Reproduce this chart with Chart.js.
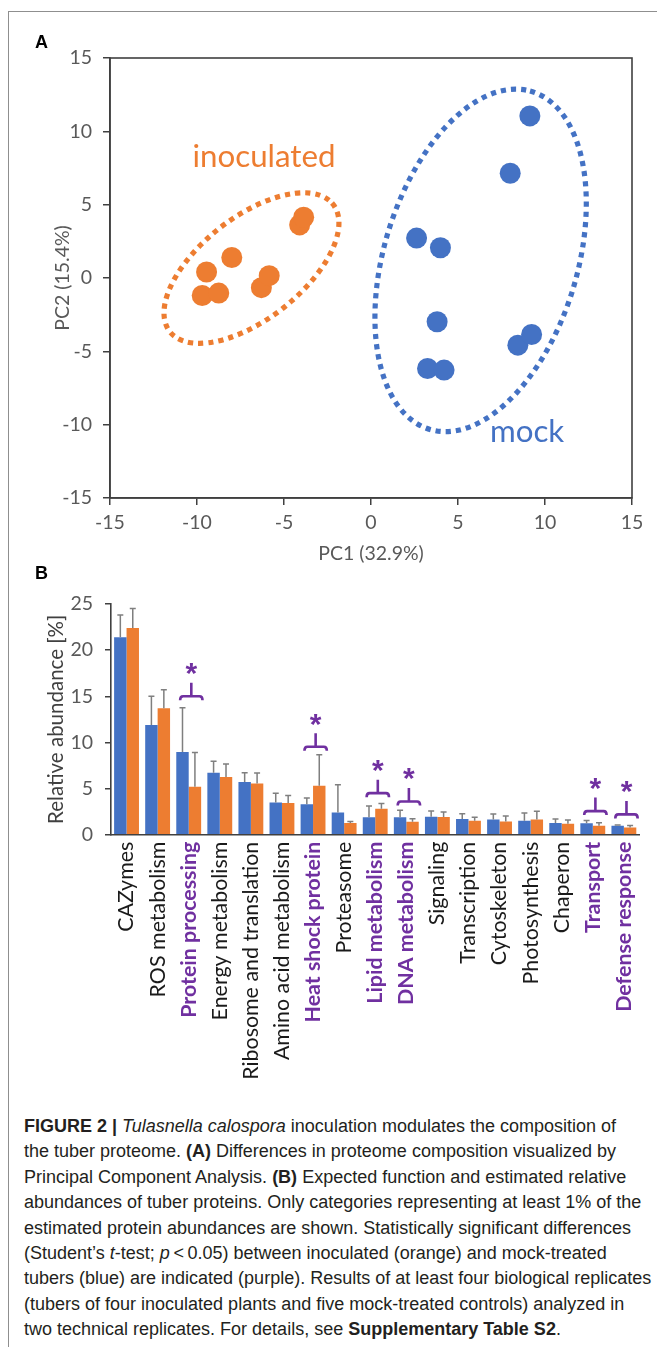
<!DOCTYPE html>
<html>
<head>
<meta charset="utf-8">
<script src="https://cdn.jsdelivr.net/npm/chart.js@4.4.1/dist/chart.umd.min.js"></script>
<style>
html,body{margin:0;padding:0;background:#fff;}
body{position:relative;width:657px;height:1347px;overflow:hidden;}
#frame{position:absolute;left:8px;top:11px;width:1000px;height:2000px;border-left:1px solid #8f8f8f;border-top:1px solid #8f8f8f;}
.plabel{position:absolute;left:35px;font:bold 18px "Liberation Sans",Arial,sans-serif;line-height:18px;color:#000;}
#cA{position:absolute;left:0;top:0;width:657px;height:580px;}
#cB{position:absolute;left:0;top:560px;width:657px;height:540px;}
#cap{position:absolute;left:24px;top:1114px;font:18px "Liberation Sans",Arial,sans-serif;line-height:25.4px;color:#231f20;white-space:nowrap;}
</style>
</head>
<body>
<div id="frame"></div>
<canvas id="cA" width="657" height="580"></canvas>
<canvas id="cB" width="657" height="540"></canvas>
<div class="plabel" style="top:33px">A</div>
<div class="plabel" style="top:564px">B</div>
<div id="cap">
<b>FIGURE 2 |</b> <i>Tulasnella calospora</i> inoculation modulates the composition of<br>
the tuber proteome. <b>(A)</b> Differences in proteome composition visualized by<br>
Principal Component Analysis. <b>(B)</b> Expected function and estimated relative<br>
abundances of tuber proteins. Only categories representing at least 1% of the<br>
estimated protein abundances are shown. Statistically significant differences<br>
(Student’s <i>t</i>-test; <i>p</i>&thinsp;&lt;&thinsp;0.05) between inoculated (orange) and mock-treated<br>
tubers (blue) are indicated (purple). Results of at least four biological replicates<br>
(tubers of four inoculated plants and five mock-treated controls) analyzed in<br>
two technical replicates. For details, see <b>Supplementary Table S2</b>.
</div>
<script>
// ---------- Panel A data ----------
const pcTicks = [-15, -10, -5, 0, 5, 10, 15];
const inocPC1 = [-9.45, -9.7, -8.75, -8.0, -6.3, -5.85, -4.1, -3.87];
const inocPC2 = [0.41, -1.19, -1.03, 1.40, -0.66, 0.16, 3.62, 4.14];
const mockPC1 = [9.13, 8.0, 2.62, 3.99, 3.8, 3.25, 4.2, 8.44, 9.23];
const mockPC2 = [11.05, 7.14, 2.72, 2.06, -2.98, -6.17, -6.28, -4.58, -3.85];
// ellipse: centre (x,y), semi-axis 1 (dx,dy), semi-axis 2 (dx,dy) in data units
const inocEllipse = [-6.87, 0.68, 4.46, 4.62, -2.32, 2.24];
const mockEllipse = [6.3, 1.2, 2.62, 11.61, -5.48, 1.24];
const groupNames = ['inoculated', 'mock'];
const groupNamePos = [[-6.15, 7.57], [8.97, -11.2]];

// ---------- Panel B data ----------
const categories = ['CAZymes', 'ROS metabolism', 'Protein processing', 'Energy metabolism',
  'Ribosome and translation', 'Amino acid metabolism', 'Heat shock protein', 'Proteasome',
  'Lipid metabolism', 'DNA metabolism', 'Signaling', 'Transcription', 'Cytoskeleton',
  'Photosynthesis', 'Chaperon', 'Transport', 'Defense response'];
const mockAbund = [21.4, 11.9, 8.95, 6.7, 5.7, 3.5, 3.3, 2.4, 1.9, 1.9, 1.95, 1.7, 1.65, 1.5, 1.28, 1.23, 0.97];
const mockSD    = [2.4, 3.1, 4.8, 1.25, 1.0, 1.0, 0.67, 3.0, 1.2, 0.74, 0.61, 0.57, 0.59, 0.85, 0.42, 0.32, 0.08];
const inocAbund = [22.4, 13.7, 5.2, 6.25, 5.56, 3.43, 5.3, 1.26, 2.82, 1.41, 1.91, 1.52, 1.44, 1.66, 1.19, 0.97, 0.79];
const inocSD    = [2.1, 2.0, 3.7, 1.4, 1.12, 0.83, 3.36, 0.18, 0.57, 0.32, 0.54, 0.36, 0.58, 0.87, 0.4, 0.33, 0.21];
const sigBracket = [null, null, 15.0, null, null, null, 9.53, null, 4.5, 3.6, null, null, null, null, null, 2.56, 2.2];
const abundTicks = [0, 5, 10, 15, 20, 25];

const ORANGE = '#ED7D31', BLUE = '#4472C4', PURPLE = '#7030A0';
const AXIS = '#404040', TICK = '#595959';
const FONT = 'Lato';
Chart.defaults.font.family = FONT;

// ---------- Panel A ----------
const ellipsePlugin = {
  id: 'ellipses',
  beforeDatasetsDraw(chart) {
    const {ctx, scales: {x, y}} = chart;
    [[inocEllipse, ORANGE], [mockEllipse, BLUE]].forEach(([e, col]) => {
      const cx = x.getPixelForValue(e[0]), cy = y.getPixelForValue(e[1]);
      const ux = x.getPixelForValue(e[0] + e[2]) - cx, uy = y.getPixelForValue(e[1] + e[3]) - cy;
      const vx = x.getPixelForValue(e[0] + e[4]) - cx, vy = y.getPixelForValue(e[1] + e[5]) - cy;
      ctx.save();
      ctx.beginPath();
      ctx.translate(cx, cy);
      ctx.transform(ux, uy, vx, vy, 0, 0);
      ctx.arc(0, 0, 1, 0, Math.PI * 2);
      ctx.restore();
      ctx.save();
      ctx.strokeStyle = col;
      ctx.lineWidth = 5.2;
      ctx.setLineDash([5.2, 5]);
      ctx.stroke();
      ctx.restore();
    });
  },
  afterDatasetsDraw(chart) {
    const {ctx, scales: {x, y}, chartArea: a} = chart;
    ctx.save();
    ctx.font = '31.3px ' + FONT;
    ctx.textAlign = 'center';
    ctx.textBaseline = 'alphabetic';
    [ORANGE, BLUE].forEach((col, i) => {
      ctx.fillStyle = col;
      ctx.fillText(groupNames[i], x.getPixelForValue(groupNamePos[i][0]), y.getPixelForValue(groupNamePos[i][1]));
    });
    ctx.strokeStyle = AXIS;
    ctx.lineWidth = 1.6;
    ctx.strokeRect(a.left, a.top, a.right - a.left, a.bottom - a.top);
    ctx.restore();
  }
};

const tickFont = {family: FONT, size: 19.5};
new Chart(document.getElementById('cA'), {
  type: 'scatter',
  data: {
    datasets: [
      {data: inocPC1.map((v, i) => ({x: v, y: inocPC2[i]})), backgroundColor: ORANGE, borderColor: ORANGE, borderWidth: 0, pointRadius: 10.5},
      {data: mockPC1.map((v, i) => ({x: v, y: mockPC2[i]})), backgroundColor: BLUE, borderColor: BLUE, borderWidth: 0, pointRadius: 10.5}
    ]
  },
  options: {
    responsive: false, animation: false, events: [],
    layout: {padding: {top: 58, right: 25, left: 0, bottom: 0}},
    plugins: {legend: {display: false}, tooltip: {enabled: false}},
    scales: {
      x: {
        type: 'linear', min: -15, max: 15,
        afterBuildTicks: s => { s.ticks = pcTicks.map(v => ({value: v})); },
        afterFit: s => { s.height = 82; },
        ticks: {color: TICK, font: tickFont, padding: 6},
        grid: {drawOnChartArea: false, drawTicks: true, tickLength: 7, color: AXIS, lineWidth: 1.5},
        border: {display: true, color: AXIS, width: 1.6},
        title: {display: true, text: 'PC1 (32.9%)', color: TICK, font: {family: FONT, size: 19.5}, padding: {top: 0, bottom: 15}}
      },
      y: {
        type: 'linear', min: -15, max: 15,
        afterBuildTicks: s => { s.ticks = pcTicks.map(v => ({value: v})); },
        afterFit: s => { s.width = 110; },
        ticks: {color: TICK, font: tickFont, padding: 11},
        grid: {drawOnChartArea: false, drawTicks: true, tickLength: 7, color: AXIS, lineWidth: 1.5},
        border: {display: true, color: AXIS, width: 1.6},
        title: {display: true, text: 'PC2 (15.4%)', color: TICK, font: {family: FONT, size: 19.5}, padding: {top: 51, bottom: 0}}
      }
    }
  },
  plugins: [ellipsePlugin]
});

// ---------- Panel B ----------
const errPlugin = {
  id: 'errbars',
  afterDatasetsDraw(chart) {
    const {ctx, scales: {y}} = chart;
    ctx.save();
    ctx.strokeStyle = '#7f7f7f';
    ctx.lineWidth = 1.5;
    [[mockAbund, mockSD], [inocAbund, inocSD]].forEach(([vals, sds], di) => {
      chart.getDatasetMeta(di).data.forEach((bar, i) => {
        const x0 = bar.x, y0 = y.getPixelForValue(vals[i]), y1 = y.getPixelForValue(vals[i] + sds[i]);
        ctx.beginPath();
        ctx.moveTo(x0, y0); ctx.lineTo(x0, y1);
        ctx.moveTo(x0 - 3, y1); ctx.lineTo(x0 + 3, y1);
        ctx.stroke();
      });
    });
    ctx.strokeStyle = PURPLE;
    ctx.fillStyle = PURPLE;
    ctx.lineWidth = 2.6;
    ctx.font = 'bold 30px "Liberation Sans", Arial, sans-serif';
    ctx.textAlign = 'center';
    ctx.textBaseline = 'alphabetic';
    const m = ctx.measureText('*');
    const astShift = (m.actualBoundingBoxAscent - m.actualBoundingBoxDescent) / 2;
    sigBracket.forEach((lvl, i) => {
      if (lvl === null) return;
      const b = chart.getDatasetMeta(0).data[i], o = chart.getDatasetMeta(1).data[i];
      const c = (b.x + o.x) / 2 + 2.6;
      const yb = y.getPixelForValue(lvl);
      const L = c - 11.2, R = c + 11.2;
      ctx.beginPath();
      ctx.moveTo(L, yb + 4);
      ctx.quadraticCurveTo(L, yb, L + 3, yb);
      ctx.lineTo(R - 3, yb);
      ctx.quadraticCurveTo(R, yb, R, yb + 4);
      ctx.moveTo(c, yb);
      ctx.lineTo(c, yb - 13.5);
      ctx.stroke();
      ctx.fillText('*', c, yb - 27 + astShift);
    });
    ctx.restore();
  }
};

new Chart(document.getElementById('cB'), {
  type: 'bar',
  data: {
    labels: categories,
    datasets: [
      {data: mockAbund, backgroundColor: BLUE, categoryPercentage: 0.8, barPercentage: 1.0},
      {data: inocAbund, backgroundColor: ORANGE, categoryPercentage: 0.8, barPercentage: 1.0}
    ]
  },
  options: {
    responsive: false, animation: false, events: [],
    layout: {padding: {top: 44, right: 15, left: 0, bottom: 0}},
    plugins: {legend: {display: false}, tooltip: {enabled: false}},
    scales: {
      x: {
        afterFit: s => { s.height = 265.3; },
        ticks: {
          autoSkip: false, minRotation: 90, maxRotation: 90, padding: 7,
          color: c => sigBracket[c.index] !== null ? PURPLE : '#1a1a1a',
          font: c => ({family: FONT, size: 21.4, weight: sigBracket[c.index] !== null ? 'bold' : 'normal'})
        },
        grid: {display: false, drawTicks: false},
        border: {display: true, color: AXIS, width: 1.6}
      },
      y: {
        min: 0, max: 25,
        afterBuildTicks: s => { s.ticks = abundTicks.map(v => ({value: v})); },
        afterFit: s => { s.width = 111; },
        ticks: {color: TICK, font: tickFont, padding: 12},
        grid: {drawOnChartArea: false, drawTicks: true, tickLength: 6, color: AXIS, lineWidth: 1.5},
        border: {display: true, color: AXIS, width: 1.6},
        title: {display: true, text: 'Relative abundance [%]', color: '#404040', font: {family: FONT, size: 20.5}, padding: {top: 44, bottom: 0}}
      }
    }
  },
  plugins: [errPlugin]
});
</script>
</body>
</html>
